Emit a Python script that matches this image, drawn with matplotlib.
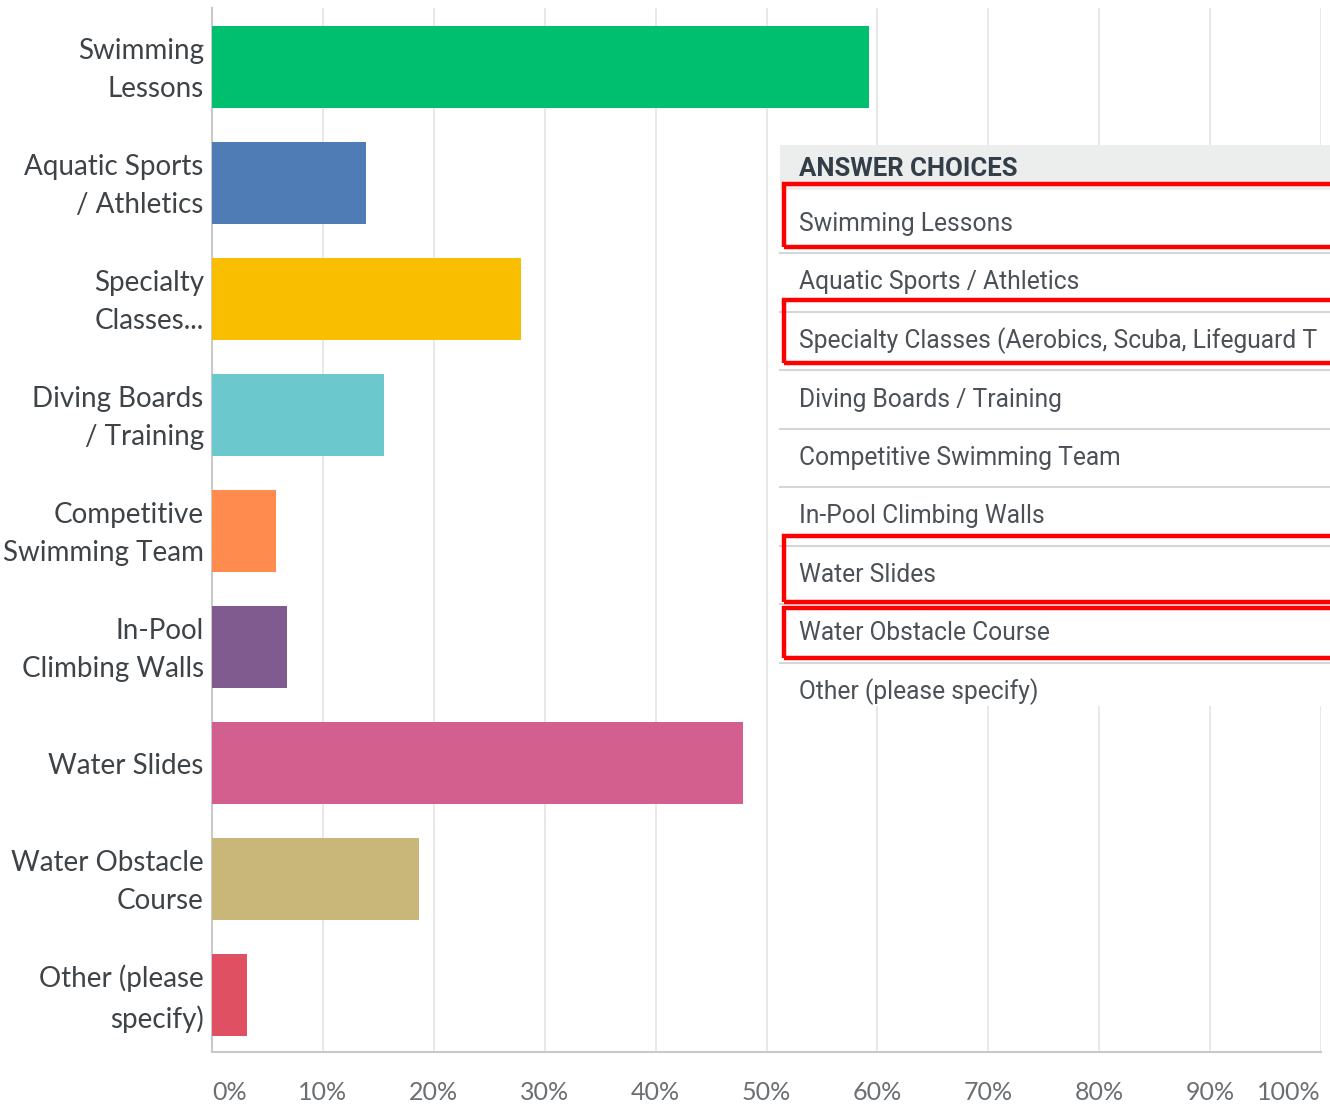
import matplotlib
matplotlib.use("Agg")
import matplotlib.pyplot as plt
from matplotlib.patches import Rectangle
from matplotlib.lines import Line2D
from matplotlib.transforms import ScaledTranslation

# ---- data ----
categories = ["Swimming\nLessons", "Aquatic Sports\n/ Athletics", "Specialty\nClasses...",
              "Diving Boards\n/ Training", "Competitive\nSwimming Team", "In-Pool\nClimbing Walls",
              "Water Slides", "Water Obstacle\nCourse", "Other (please\nspecify)"]
values = [59.2, 13.9, 27.9, 15.5, 5.8, 6.8, 47.9, 18.7, 3.2]
colors = ["#00bf6f", "#507cb6", "#f9be00", "#6bc8cd", "#ff8b4f", "#7f5b8f", "#d25f8e", "#c8b779", "#df5063"]
x_ticks = [0, 10, 20, 30, 40, 50, 60, 70, 80, 90, 100]
x_tick_labels = ["0%", "10%", "20%", "30%", "40%", "50%", "60%", "70%", "80%", "90%", "100%"]
answer_header = "ANSWER CHOICES"
# visible portion of each answer choice (the third is cut at the picture edge in the source)
answer_choices = ["Swimming Lessons", "Aquatic Sports / Athletics",
                  "Specialty Classes (Aerobics, Scuba, Lifeguard T",
                  "Diving Boards / Training", "Competitive Swimming Team",
                  "In-Pool Climbing Walls", "Water Slides", "Water Obstacle Course",
                  "Other (please specify)"]
highlighted = [0, 2, 6, 7]

W, H = 1330, 1110
fig = plt.figure(figsize=(W / 100, H / 100), dpi=100)
fig.patch.set_facecolor("white")

def fx(x):
    return x / W

def fy(y):
    return 1 - y / H

ax = fig.add_axes([fx(212), fy(1052), (1321 - 212) / W, (1052 - 8) / H])
ypos = list(range(len(categories)))
ax.barh(ypos, values, height=0.707, color=colors, zorder=3)
ax.set_xlim(0, 100)
ax.set_ylim(8.49, -0.51)
ax.set_yticks(ypos)
ax.set_yticklabels(categories, fontsize=20, color="#3e4347", family="Lato",
                   linespacing=1.6)
ax.tick_params(axis="y", length=0, pad=6)
shift_up = ScaledTranslation(0, 6 / 100, fig.dpi_scale_trans)
for t in ax.get_yticklabels():
    t.set_horizontalalignment("right")
    if "\n" in t.get_text():
        t.set_transform(t.get_transform() + shift_up)
ax.set_xticks(x_ticks)
ax.set_xticklabels(x_tick_labels, fontsize=18, color="#6b6f73", family="Lato")
ax.tick_params(axis="x", length=0, pad=21)
xl = ax.get_xticklabels()
xl[0].set_horizontalalignment("left")
xl[-1].set_horizontalalignment("right")
ax.grid(axis="x", color="#e4e4e4", linewidth=1.2, zorder=0)
ax.grid(axis="y", visible=False)
for s in ["top", "right"]:
    ax.spines[s].set_visible(False)
ax.spines["left"].set_color("#c9c9c9")
ax.spines["left"].set_linewidth(1.5)
ax.spines["bottom"].set_color("#c9c9c9")
ax.spines["bottom"].set_linewidth(1.5)

# ---- overlay table ----
tx0, ty0, ty1 = 780, 145, 706
fig.add_artist(Rectangle((fx(tx0), fy(ty1)), fx(W - tx0 + 10), (ty1 - ty0) / H,
                         transform=fig.transFigure, facecolor="white", edgecolor="none", zorder=5))
fig.add_artist(Rectangle((fx(tx0), fy(190)), fx(W - tx0 + 10), (190 - ty0) / H,
                         transform=fig.transFigure, facecolor="#eceeee", edgecolor="none", zorder=6))
fig.text(fx(799), fy(169), answer_header, fontsize=18.5, fontweight="bold", color="#333e48",
         family="Roboto", va="center", ha="left", zorder=7)

row_y0 = 224
row_step = 58.5
for i, name in enumerate(answer_choices):
    yc = row_y0 + i * row_step
    fig.text(fx(799), fy(yc), name, fontsize=17.7, color="#4b5157", family="Roboto",
             va="center", ha="left", zorder=7)
    if i < len(answer_choices) - 1:
        ys = yc + row_step / 2
        fig.add_artist(Line2D([fx(tx0), fx(W + 10)], [fy(ys), fy(ys)], transform=fig.transFigure,
                              color="#d4d7d9", linewidth=1.5, zorder=6))

for i in highlighted:
    yc = row_y0 + i * row_step
    top, bot = yc - 40, yc + 23
    if i == 2:
        top, bot = yc - 41, yc + 22
    if i == 6:
        top, bot = yc - 39, yc + 27
    if i == 7:
        top, bot = yc - 26, yc + 24
    fig.add_artist(Rectangle((fx(784), fy(bot)), fx(W + 20 - 784), (bot - top) / H,
                             transform=fig.transFigure, facecolor="none", edgecolor="#ff0000",
                             linewidth=3.2, zorder=8))

fig.savefig("out.png", dpi=100)
